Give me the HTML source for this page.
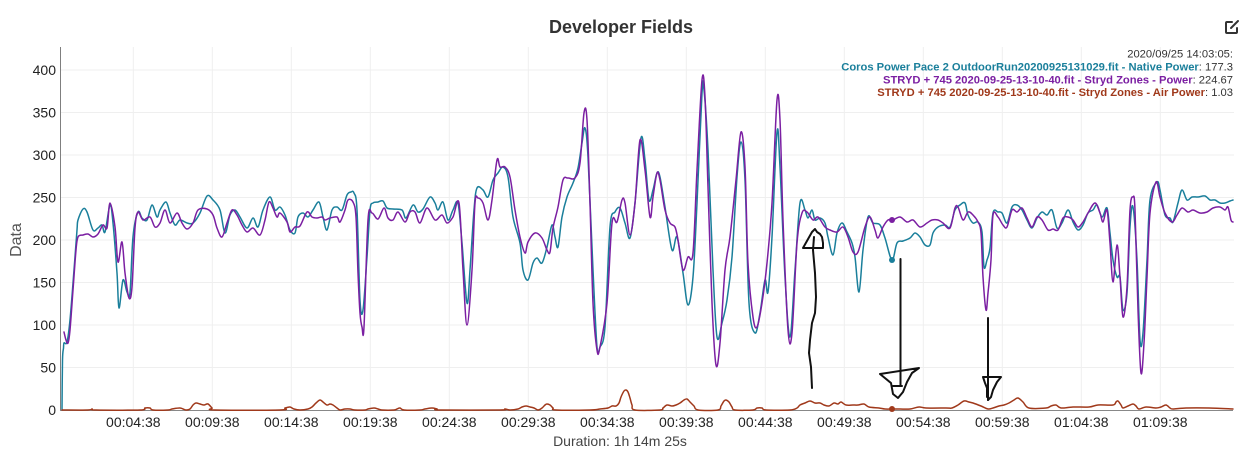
<!DOCTYPE html>
<html><head><meta charset="utf-8"><style>
html,body{margin:0;padding:0;background:#fff;width:1246px;height:466px;overflow:hidden}
svg{display:block}
text{font-family:"Liberation Sans",Arial,sans-serif}
</style></head><body>
<svg id="chart" width="1246" height="466" viewBox="0 0 1246 466" xmlns="http://www.w3.org/2000/svg">
<rect width="1246" height="466" fill="#fff"/>
<!-- grid -->
<g stroke="#efefef" stroke-width="1">
<line x1="61" y1="367.5" x2="1234" y2="367.5"/><line x1="61" y1="325" x2="1234" y2="325"/>
<line x1="61" y1="282.5" x2="1234" y2="282.5"/><line x1="61" y1="240" x2="1234" y2="240"/>
<line x1="61" y1="197.5" x2="1234" y2="197.5"/><line x1="61" y1="155" x2="1234" y2="155"/>
<line x1="61" y1="112.5" x2="1234" y2="112.5"/><line x1="61" y1="70" x2="1234" y2="70"/>
<line x1="133.3" y1="47" x2="133.3" y2="410"/><line x1="212.3" y1="47" x2="212.3" y2="410"/>
<line x1="291.3" y1="47" x2="291.3" y2="410"/><line x1="370.3" y1="47" x2="370.3" y2="410"/>
<line x1="449.3" y1="47" x2="449.3" y2="410"/><line x1="528.3" y1="47" x2="528.3" y2="410"/>
<line x1="607.3" y1="47" x2="607.3" y2="410"/><line x1="686.3" y1="47" x2="686.3" y2="410"/>
<line x1="765.3" y1="47" x2="765.3" y2="410"/><line x1="844.3" y1="47" x2="844.3" y2="410"/>
<line x1="923.3" y1="47" x2="923.3" y2="410"/><line x1="1002.3" y1="47" x2="1002.3" y2="410"/>
<line x1="1081.3" y1="47" x2="1081.3" y2="410"/><line x1="1160.3" y1="47" x2="1160.3" y2="410"/>
</g>
<!-- axes -->
<line x1="60.5" y1="47" x2="60.5" y2="410" stroke="#7f7f7f" stroke-width="1"/>
<line x1="60" y1="410.5" x2="1233" y2="410.5" stroke="#888" stroke-width="1"/>
<!-- title -->
<text x="621" y="33" text-anchor="middle" font-size="18" font-weight="bold" fill="#333">Developer Fields</text>
<!-- edit icon -->
<g fill="none" stroke="#333" stroke-width="2" stroke-linecap="round">
<path d="M1232,22 L1227,22 Q1226,22 1226,23 L1226,32 Q1226,33 1227,33 L1236,33 Q1237,33 1237,32 L1237,28"/>
<path d="M1231,28 L1238,21"/>
</g>
<!-- y ticks -->
<g font-size="14" fill="#222" text-anchor="end">
<text x="56" y="415">0</text><text x="56" y="372.5">50</text><text x="56" y="330">100</text>
<text x="56" y="287.5">150</text><text x="56" y="245">200</text><text x="56" y="202.5">250</text>
<text x="56" y="160">300</text><text x="56" y="117.5">350</text><text x="56" y="75">400</text>
</g>
<text transform="translate(21,240) rotate(-90)" text-anchor="middle" font-size="16" fill="#555">Data</text>
<!-- x ticks -->
<g font-size="14" fill="#222" text-anchor="middle">
<text x="133.3" y="427">00:04:38</text><text x="212.3" y="427">00:09:38</text>
<text x="291.3" y="427">00:14:38</text><text x="370.3" y="427">00:19:38</text>
<text x="449.3" y="427">00:24:38</text><text x="528.3" y="427">00:29:38</text>
<text x="607.3" y="427">00:34:38</text><text x="686.3" y="427">00:39:38</text>
<text x="765.3" y="427">00:44:38</text><text x="844.3" y="427">00:49:38</text>
<text x="923.3" y="427">00:54:38</text><text x="1002.3" y="427">00:59:38</text>
<text x="1081.3" y="427">01:04:38</text><text x="1160.3" y="427">01:09:38</text>
</g>
<text x="620" y="446" text-anchor="middle" font-size="14" fill="#444">Duration: 1h 14m 25s</text>
<!-- series -->
<g fill="none" stroke-width="1.5" stroke-linejoin="round" stroke-linecap="round">
<polyline class="sm" stroke="#1a7f9b" points="62,410 62.5,360 63.5,348 64,343 67,342 70,320 74,270 77,230 78,220 83,209 87,212 93,230 98,228 102,225 105,232 110,205 113,223 117,273 119,308 123,280 127,292 130,293 133,237 138,212 142,218 147,220 152,205 157,217 160,210 166,202 170,213 175,225 180,220 187,223 193,223 200,213 207,196 213,200 220,210 225,233 230,215 235,210 240,217 247,228 253,218 258,227 263,210 270,197 275,210 280,207 285,215 290,230 295,233 298,217 303,213 308,217 313,210 319,202 323,217 327,230 332,210 337,207 342,210 347,195 351,192 354,193 357,210 360,300 363,310 367,257 370,210 373,203 378,202 383,201 387,208 393,209 402,210 406,218 413,205 418,212 423,209 430,197 435,203 438,210 443,202 448,220 453,210 458,203 462,243 467,303 470,270 474,210 477,188 483,190 488,197 493,180 498,173 503,167 508,177 513,217 520,243 523,270 528,280 533,263 537,258 542,263 547,247 552,225 555,237 558,247 562,217 567,197 573,183 578,168 582,143 585,128 588,157 593,270 597,347 600,347 605,327 610,227 615,212 620,208 625,223 630,238 635,203 641,138 645,160 649,200 653,190 657,173 660,177 665,207 672,250 677,237 683,273 688,305 693,277 697,203 702,93 704,90 708,150 713,270 717,337 722,323 727,300 732,257 737,177 741,142 745,180 749,303 755,333 760,313 765,280 768,292 772,237 777,132 780,167 785,277 790,337 795,270 800,203 805,210 808,218 812,210 815,220 820,218 825,223 828,237 833,255 837,233 842,223 847,232 852,243 855,257 859,292 863,250 868,217 873,223 880,225 885,238 892,260 897,243 903,241 910,238 915,233 920,237 925,245 930,245 933,233 938,227 945,225 950,227 955,210 960,205 965,203 968,215 973,223 978,222 982,232 984,267 987,260 990,248 993,213 998,212 1002,213 1007,223 1012,207 1017,205 1022,210 1027,220 1032,228 1037,218 1042,212 1047,215 1052,210 1057,228 1062,223 1068,210 1073,222 1078,230 1083,225 1088,213 1093,210 1097,205 1102,217 1107,208 1110,233 1113,260 1117,277 1120,277 1123,310 1127,293 1130,227 1133,207 1137,260 1140,340 1143,333 1147,260 1150,200 1157,182 1160,190 1165,215 1170,218 1173,222 1178,203 1182,190 1187,200 1192,197 1198,197 1205,196 1210,200 1215,200 1220,203 1225,203 1230,201 1233,200"/>
<polyline class="sm" stroke="#7b1fa2" points="64,332 66,340 68,343 70,330 73,290 76,250 78,237 83,235 88,234 93,237 98,234 103,225 107,228 110,203 115,227 118,262 122,242 125,273 129,298 132,287 135,228 138,212 143,220 150,217 155,227 160,223 165,210 170,223 177,213 182,223 187,229 193,223 198,210 207,209 213,215 217,228 222,237 227,223 232,210 237,215 242,225 247,232 253,228 260,235 265,220 269,202 273,208 277,217 280,213 287,222 290,232 295,227 300,226 307,212 312,217 317,218 322,217 325,220 330,218 337,217 340,222 345,210 348,200 353,202 356,217 358,273 360,313 362,327 364,327 368,220 372,213 378,219 384,208 388,218 393,220 398,212 405,222 410,212 415,212 420,223 427,208 435,220 442,215 447,223 453,217 459,203 463,270 467,325 472,270 475,203 478,198 483,203 488,220 492,200 497,160 500,167 505,167 510,177 515,210 520,237 525,253 528,242 535,233 542,238 547,250 550,252 553,228 558,207 563,180 568,178 575,178 580,163 584,113 587,120 590,203 593,303 597,350 600,347 607,303 612,223 617,222 622,200 625,203 630,235 635,203 640,140 645,170 650,217 653,197 657,173 660,180 665,210 670,223 675,227 678,240 683,270 688,257 693,253 697,170 702,80 705,97 708,187 712,303 716,365 720,343 725,270 730,237 736,180 741,132 745,167 748,263 753,317 757,327 762,303 767,263 772,203 777,100 780,120 783,220 788,330 792,333 797,243 802,213 807,212 813,220 818,217 825,227 830,230 837,232 843,227 848,237 853,252 858,252 865,227 870,217 875,230 878,238 883,227 888,220 893,220 900,217 907,222 913,220 920,227 927,223 932,220 938,220 943,223 950,228 955,208 958,207 963,220 968,212 973,215 978,222 981,233 983,277 986,310 988,293 991,260 993,215 998,217 1003,225 1007,227 1012,210 1017,212 1022,208 1027,218 1032,227 1037,217 1042,220 1048,230 1053,229 1058,230 1063,218 1068,217 1073,220 1078,227 1083,222 1088,213 1095,203 1100,213 1103,222 1107,210 1110,243 1113,282 1117,245 1120,277 1123,317 1127,287 1130,210 1133,197 1135,210 1138,310 1141,373 1144,343 1147,277 1150,213 1156,182 1160,197 1165,213 1172,222 1177,215 1182,208 1188,212 1193,210 1200,213 1207,212 1213,208 1220,207 1225,210 1228,207 1231,220 1233,222"/>
<polyline class="sm" stroke="#a0391b" points="62,410 88,410 92,409 96,410 140,410 145,408 150,408 153,410 168,410 172,409 180,408 186,410 190,409 193,405 196,403 200,404 204,405 208,404 212,408 215,410 280,410 285,408 290,407 294,409 300,410 308,409 312,407 316,403 320,400 323,402 327,405 330,404 333,405 337,408 340,410 345,409 350,409 355,410 365,410 368,409 374,408 378,409 382,410 394,410 397,409 400,408 404,410 420,410 425,409 432,408 437,409 440,410 500,410 505,409 510,410 518,409 522,407 526,406 530,407 534,408 538,410 542,408 545,405 547,404 550,405 553,408 556,410 590,410 600,409 608,408 612,406 616,406 619,403 621,397 624,391 626,390 628,392 630,398 632,405 635,410 660,410 663,408 667,405 672,406 676,405 680,403 684,400 687,399 690,402 694,406 698,410 718,410 721,406 724,401 726,400 729,402 732,407 735,410 753,410 757,408 762,408 766,410 790,410 797,408 800,405 805,403 810,401 815,403 820,403 824,405 829,406 834,403 838,404 841,402 846,405 853,405 858,405 864,404 869,407 879,408 885,409 893,409 900,409 910,409 919,407 926,408 946,408 952,408 958,405 964,401 969,402 973,403 981,406 988,409 993,408 999,406 1004,405 1009,403 1014,400 1018,398 1023,402 1029,408 1046,408 1051,406 1056,405 1061,408 1073,407 1089,407 1098,405 1113,405 1116,402 1118,401 1121,405 1123,408 1128,406 1133,404 1136,406 1139,409 1146,407 1156,408 1161,407 1166,405 1170,408 1173,409 1186,408 1209,408 1233,409"/>
</g>
<circle cx="892" cy="220" r="3" fill="#7b1fa2"/>
<circle cx="892" cy="260" r="3" fill="#1a7f9b"/>
<circle cx="892" cy="409" r="3" fill="#a0391b"/>
<!-- hand drawn annotations -->
<g fill="none" stroke="#111" stroke-width="2" stroke-linejoin="round" stroke-linecap="round">
<path d="M812,388 L811,367 L809,353 L810,340 L812,323 L815,313 L816,297 L815,273 L813,250 L814,237"/>
<path d="M803,248 L812,232 L815,229 L817,232 L820,234 L822,237 L823,243 L823,248 Z"/>
<path d="M900.5,259 L900.5,386"/>
<path d="M880,374 L919,368 L912,373 L907,382 L903,392 L898,398 L893,394 L891,383 L880,374 M893,386 L902,386"/>
<path d="M988,318 L988,400"/>
<path d="M983,377 L1001,377 L997,382 L993,390 L991,397 L988,400 M983,377 L985,383 L987,388 L987,397"/>
</g>
<!-- legend -->
<g font-size="11.2" text-anchor="end">
<text x="1233" y="57.5" fill="#333">2020/09/25 14:03:05:</text>
<text x="1233" y="70.5"><tspan fill="#1a7f9b" font-weight="bold">Coros Power Pace 2 OutdoorRun20200925131029.fit - Native Power</tspan><tspan fill="#333">: 177.3</tspan></text>
<text x="1233" y="83.5"><tspan fill="#7b1fa2" font-weight="bold">STRYD + 745 2020-09-25-13-10-40.fit - Stryd Zones - Power</tspan><tspan fill="#333">: 224.67</tspan></text>
<text x="1233" y="96"><tspan fill="#a0391b" font-weight="bold">STRYD + 745 2020-09-25-13-10-40.fit - Stryd Zones - Air Power</tspan><tspan fill="#333">: 1.03</tspan></text>
</g>
</svg>
<script>
(function(){
  try{
    var ns="http://www.w3.org/2000/svg";
    var pls=document.querySelectorAll("polyline.sm");
    for(var i=0;i<pls.length;i++){
      var pl=pls[i];
      var nums=pl.getAttribute("points").trim().split(/[\s,]+/).map(Number);
      var p=[];
      for(var j=0;j+1<nums.length;j+=2)p.push([nums[j],nums[j+1]]);
      if(p.length<3)continue;
      var d="M"+p[0][0]+","+p[0][1];
      var t=0.5/3;
      for(var k=0;k<p.length-1;k++){
        var p0=p[k>0?k-1:0],p1=p[k],p2=p[k+1],p3=p[k+2<p.length?k+2:p.length-1];
        var c1x=p1[0]+(p2[0]-p0[0])*t,c1y=p1[1]+(p2[1]-p0[1])*t;
        var c2x=p2[0]-(p3[0]-p1[0])*t,c2y=p2[1]-(p3[1]-p1[1])*t;
        d+=" C"+c1x.toFixed(2)+","+c1y.toFixed(2)+" "+c2x.toFixed(2)+","+c2y.toFixed(2)+" "+p2[0]+","+p2[1];
      }
      var path=document.createElementNS(ns,"path");
      path.setAttribute("d",d);
      path.setAttribute("stroke",pl.getAttribute("stroke"));
      pl.parentNode.replaceChild(path,pl);
    }
  }catch(e){}
})();
</script>
</body></html>
